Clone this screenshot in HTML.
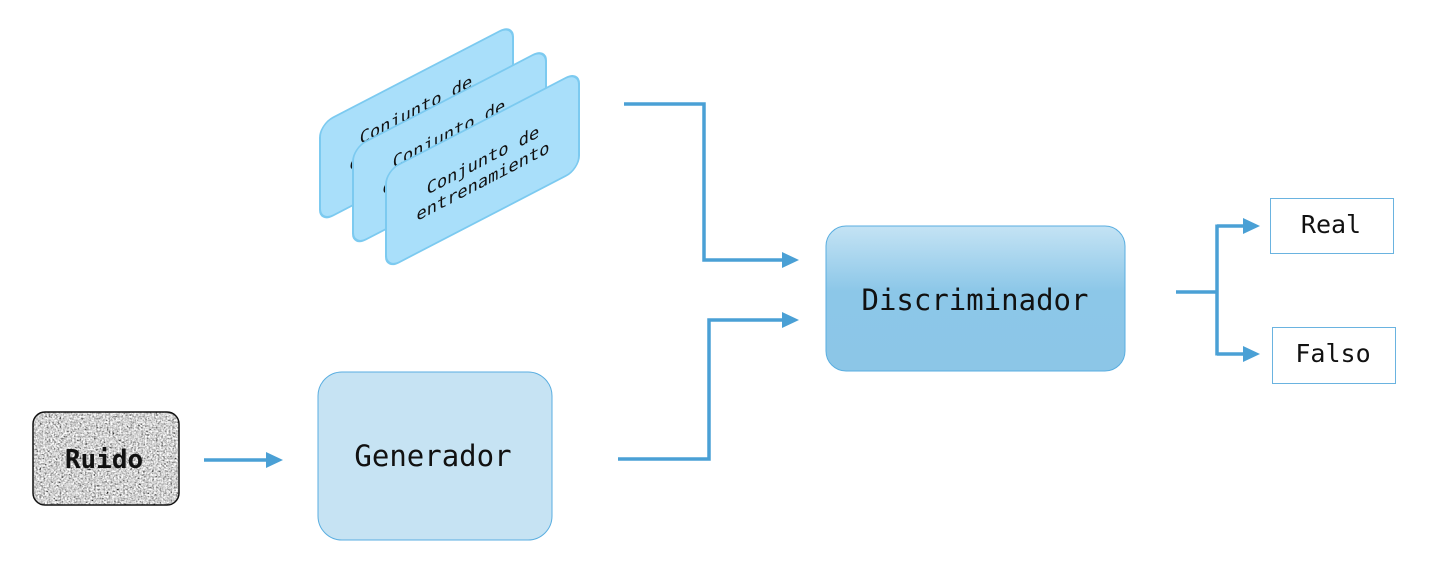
<!DOCTYPE html>
<html><head><meta charset="utf-8"><style>
html,body{margin:0;padding:0;background:#fff;width:1450px;height:568px;overflow:hidden}
svg{display:block}
text{font-family:"DejaVu Sans Mono","Liberation Mono",monospace;fill:#111}
</style></head><body>
<svg width="1450" height="568" viewBox="0 0 1450 568" xmlns="http://www.w3.org/2000/svg">
<defs>
<linearGradient id="dg" x1="0" y1="0" x2="0" y2="1">
<stop offset="0" stop-color="#c4e3f4"/><stop offset="0.45" stop-color="#8cc7e8"/><stop offset="1" stop-color="#8cc6e7"/>
</linearGradient>
<filter id="noise" x="0" y="0" width="100%" height="100%">
<feTurbulence type="fractalNoise" baseFrequency="0.55" numOctaves="2" seed="3"/>
<feColorMatrix type="matrix" values="0.33 0.33 0.33 0 0  0.33 0.33 0.33 0 0  0.33 0.33 0.33 0 0  0 0 0 0 1"/>
<feComponentTransfer><feFuncR type="linear" slope="3" intercept="-0.85"/><feFuncG type="linear" slope="3" intercept="-0.85"/><feFuncB type="linear" slope="3" intercept="-0.85"/></feComponentTransfer>
</filter>
<clipPath id="rc"><rect x="33" y="412" width="146" height="93" rx="12"/></clipPath>
</defs>

<g transform="matrix(1,-0.518,0,1,0,0)">
<rect x="320" y="290" width="193" height="98" rx="13" fill="#a9dffa" stroke="#7ccaf0" stroke-width="2"/>
<text x="416" y="331" font-size="17" text-anchor="middle">Conjunto de</text>
<text x="416" y="352" font-size="17" text-anchor="middle">entrenamiento</text>
<rect x="353" y="331" width="193" height="98" rx="13" fill="#a9dffa" stroke="#7ccaf0" stroke-width="2"/>
<text x="449" y="372" font-size="17" text-anchor="middle">Conjunto de</text>
<text x="449" y="393" font-size="17" text-anchor="middle">entrenamiento</text>
<rect x="386" y="371" width="193" height="98" rx="13" fill="#a9dffa" stroke="#7ccaf0" stroke-width="2"/>
<text x="483" y="416" font-size="17" text-anchor="middle">Conjunto de</text>
<text x="483" y="437" font-size="17" text-anchor="middle">entrenamiento</text>
</g>

<g clip-path="url(#rc)"><rect x="33" y="412" width="146" height="93" fill="#999" filter="url(#noise)"/></g>
<rect x="33" y="412" width="146" height="93" rx="12" fill="none" stroke="#111" stroke-width="1.5"/>
<text x="104" y="468" font-size="26" font-weight="bold" text-anchor="middle">Ruido</text>

<rect x="318" y="372" width="234" height="168" rx="24" fill="#c6e3f3" stroke="#5aaee0" stroke-width="1"/>
<text x="433" y="466" font-size="29" text-anchor="middle">Generador</text>

<rect x="826" y="226" width="299" height="145" rx="20" fill="url(#dg)" stroke="#5aaee0" stroke-width="1"/>
<text x="975" y="310" font-size="29" text-anchor="middle">Discriminador</text>

<rect x="1270.5" y="198.5" width="123" height="55" fill="#fff" stroke="#6ab3e0" stroke-width="1"/>
<text x="1331" y="233" font-size="25" text-anchor="middle">Real</text>
<rect x="1272.5" y="327.5" width="123" height="56" fill="#fff" stroke="#6ab3e0" stroke-width="1"/>
<text x="1333" y="362" font-size="25" text-anchor="middle">Falso</text>

<g fill="none" stroke="#4aa0d5" stroke-width="3.5">
<path d="M204,460 L268,460"/>
<path d="M624,104 L704,104 L704,260 L784,260"/>
<path d="M618,459 L709,459 L709,320 L784,320"/>
<path d="M1176,292 L1217,292"/>
<path d="M1217,224.5 L1217,355.5"/>
<path d="M1217,226 L1245,226"/>
<path d="M1217,354 L1245,354"/>
</g>
<g fill="#4aa0d5">
<path d="M266,452 L283,460 L266,468 z"/>
<path d="M782,252 L799,260 L782,268 z"/>
<path d="M782,312 L799,320 L782,328 z"/>
<path d="M1243,218 L1260,226 L1243,234 z"/>
<path d="M1243,346 L1260,354 L1243,362 z"/>
</g>
</svg>
</body></html>
